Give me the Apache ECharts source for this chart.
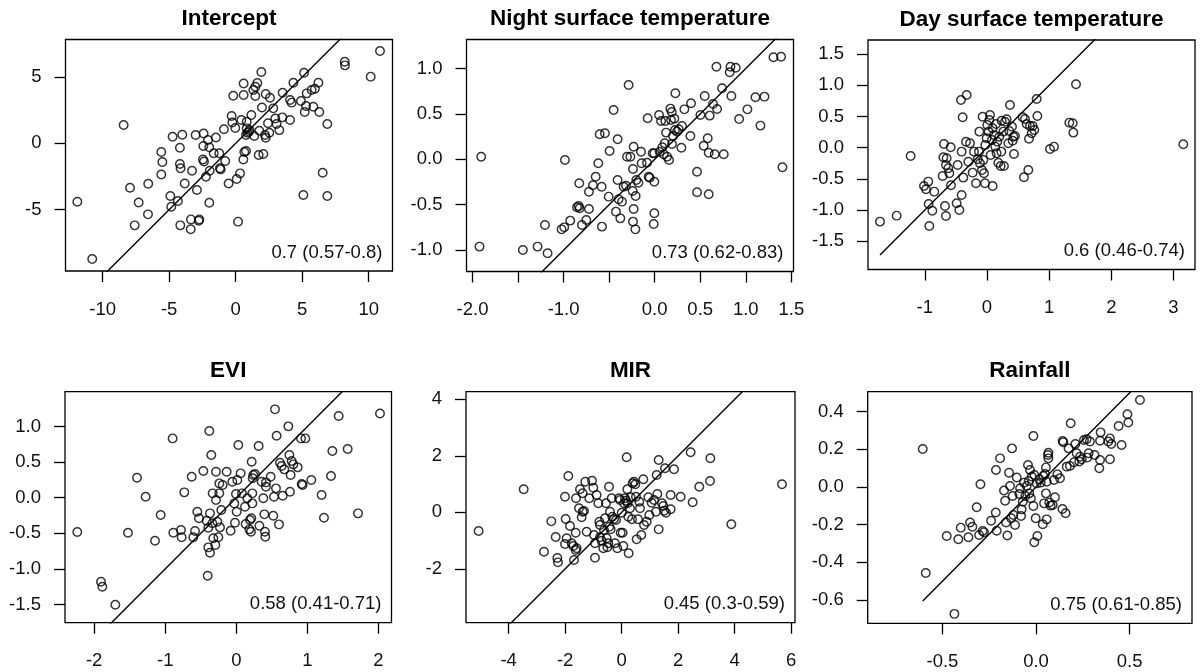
<!DOCTYPE html>
<html>
<head>
<meta charset="utf-8">
<script src="https://cdn.jsdelivr.net/npm/echarts@6/dist/echarts.min.js"></script>
<style>
html,body{margin:0;padding:0;background:#fff;}
#chart{width:1201px;height:672px;}
</style>
</head>
<body>
<div id="chart"></div>
<script>
// ---------- data ----------
const titles = ['Intercept', 'Night surface temperature', 'Day surface temperature', 'EVI', 'MIR', 'Rainfall'];
const corrLabels = ['0.7 (0.57-0.8)', '0.73 (0.62-0.83)', '0.6 (0.46-0.74)', '0.58 (0.41-0.71)', '0.45 (0.3-0.59)', '0.75 (0.61-0.85)'];

const xTicks = [[-10, -5, 0, 5, 10], [-2, -1.5, -1, -0.5, 0, 0.5, 1, 1.5], [-1, 0, 1, 2, 3], [-2, -1, 0, 1, 2], [-4, -2, 0, 2, 4, 6], [-0.5, 0, 0.5]];
const xTickLabels = [[-10, -5, 0, 5, 10], [-2, -1, 0, 0.5, 1, 1.5], [-1, 0, 1, 2, 3], [-2, -1, 0, 1, 2], [-4, -2, 0, 2, 4, 6], [-0.5, 0, 0.5]];
const yTicks = [[-5, 0, 5], [-1, -0.5, 0, 0.5, 1], [-1.5, -1, -0.5, 0, 0.5, 1, 1.5], [-1.5, -1, -0.5, 0, 0.5, 1], [-2, 0, 2, 4], [-0.6, -0.4, -0.2, 0, 0.2, 0.4]];
const xDecimals = [0, 1, 0, 0, 0, 1];
const yDecimals = [0, 1, 1, 1, 0, 1];

const xMin = [-12.79, -2.066, -1.914, -2.41, -5.51, -0.899];
const xMax = [11.79, 1.524, 3.346, 2.183, 6.136, 0.833];
const yMin = [-9.62, -1.235, -1.955, -1.756, -3.906, -0.724];
const yMax = [7.83, 1.319, 1.727, 1.489, 4.27, 0.506];

const intercept = [[-11.9,-4.4],[-10.78,-8.72],[-8.42,1.38],[-7.94,-3.34],[-7.59,-6.18],[-7.29,-4.45],[-6.59,-5.35],[-6.57,-3.04],[-5.59,-0.65],[-5.51,-1.41],[-5.59,-2.34],[-4.91,-3.97],[-4.84,-4.77],[-4.74,0.5],[-4.34,-4.35],[-4.16,-6.18],[-4.19,-1.56],[-4.14,-1.88],[-4.19,-0.33],[-4.01,0.65],[-3.83,-3.02],[-3.36,-5.73],[-3.38,-6.48],[-3.28,-2.06],[-3.01,0.63],[-2.91,-3.52],[-2.78,-5.83],[-2.73,-5.73],[-2.41,0.75],[-2.43,-0.2],[-2.46,-1.21],[-2.38,-1.36],[-2.23,-2.51],[-1.98,-4.47],[-2.08,0.25],[-1.98,-0.3],[-1.95,-2.06],[-1.65,-0.75],[-1.48,0.45],[-1.23,-0.75],[-1.18,-1.88],[-1.13,-1.96],[-0.78,-1.33],[-0.53,-3.02],[-0.88,1.06],[-0.18,3.59],[-0.3,2.06],[-0.25,1.58],[-0.03,1.16],[0.08,-2.69],[0.33,-2.26],[0.18,-5.9],[0.43,1.76],[0.6,4.52],[0.6,3.64],[0.58,-1.21],[0.65,-0.65],[0.78,-0.58],[0.83,1.63],[0.83,1.13],[0.78,0.63],[0.88,0.8],[1.0,0.88],[1.05,1.0],[1.18,2.14],[1.4,0.55],[1.33,4.02],[1.48,4.27],[1.63,4.55],[1.48,3.57],[1.73,-0.88],[1.93,5.38],[1.98,2.71],[1.78,0.95],[2.08,-0.8],[2.21,0.63],[2.26,0.43],[2.26,3.72],[2.43,1.51],[2.58,3.44],[2.53,0.8],[2.83,2.64],[2.98,1.88],[3.08,1.46],[3.28,1.0],[3.53,3.82],[3.51,1.96],[4.09,1.76],[4.09,3.27],[4.21,3.07],[4.34,4.57],[4.91,3.19],[5.14,5.33],[5.19,2.36],[5.29,2.81],[5.09,-3.89],[5.34,3.77],[5.71,4.02],[5.96,4.12],[6.22,4.57],[5.84,2.76],[6.29,2.36],[6.54,-2.21],[6.89,-3.97],[6.89,1.46],[8.2,6.16],[8.22,5.88],[10.15,5.03],[10.85,6.96]];

const nightTemp = [[-1.923,-0.961],[-1.905,0.029],[-1.447,-0.998],[-1.286,-0.961],[-1.176,-1.035],[-1.205,-0.723],[-1.022,-0.771],[-0.993,-0.749],[-0.927,-0.675],[-0.985,-0.007],[-0.828,-0.264],[-0.853,-0.528],[-0.835,-0.514],[-0.824,-0.539],[-0.799,-0.723],[-0.751,-0.668],[-0.722,-0.547],[-0.722,-0.356],[-0.678,-0.286],[-0.648,-0.191],[-0.619,-0.044],[-0.604,0.275],[-0.546,0.286],[-0.582,-0.301],[-0.579,-0.741],[-0.505,-0.411],[-0.495,0.092],[-0.451,0.543],[-0.407,0.22],[-0.425,-0.576],[-0.407,-0.228],[-0.396,-0.44],[-0.377,-0.65],[-0.359,-0.466],[-0.341,-0.301],[-0.315,-0.29],[-0.286,0.818],[-0.304,0.029],[-0.267,0.029],[-0.242,-0.349],[-0.231,0.139],[-0.238,-0.106],[-0.231,-0.547],[-0.238,-0.686],[-0.212,-0.771],[-0.209,-0.404],[-0.201,-0.228],[-0.179,-0.257],[-0.15,0.084],[-0.143,-0.044],[-0.084,-0.037],[-0.077,0.451],[-0.066,-0.191],[-0.055,-0.202],[-0.022,0.066],[-0.004,0.066],[-0.004,-0.246],[-0.004,-0.594],[-0.011,-0.712],[0.048,0.488],[0.055,0.084],[0.07,0.422],[0.084,0.132],[0.099,0.055],[0.117,0.422],[0.11,0.176],[0.136,0.029],[0.125,0.294],[0.158,-0.007],[0.172,0.558],[0.187,0.521],[0.179,0.433],[0.19,0.169],[0.201,0.257],[0.216,0.448],[0.227,0.727],[0.223,0.323],[0.245,0.305],[0.264,0.33],[0.3,0.367],[0.293,0.128],[0.326,0.55],[0.392,0.257],[0.399,0.617],[0.465,-0.136],[0.465,-0.363],[0.502,0.488],[0.538,0.15],[0.549,0.697],[0.582,0.231],[0.593,-0.385],[0.593,0.073],[0.604,0.481],[0.641,0.609],[0.659,0.055],[0.685,0.554],[0.678,1.02],[0.74,0.782],[0.758,0.055],[0.824,0.958],[0.832,1.02],[0.89,1.009],[0.842,0.697],[0.927,0.444],[1.018,0.55],[1.106,0.683],[1.205,0.69],[1.161,0.371],[1.304,1.123],[1.388,1.13],[1.403,-0.088]];

const dayTemp = [[-1.721,-1.187],[-1.453,-1.091],[-1.228,-0.134],[-1.013,-0.615],[-0.981,-0.668],[-0.944,-0.545],[-0.938,-0.904],[-0.928,-1.257],[-0.879,-1.011],[-0.847,-0.706],[-0.713,-0.455],[-0.692,0.059],[-0.702,-0.155],[-0.66,-0.278],[-0.649,-0.171],[-0.676,-0.936],[-0.66,-1.096],[-0.622,-0.332],[-0.606,-0.412],[-0.584,0.005],[-0.579,-0.604],[-0.472,-0.278],[-0.488,-0.893],[-0.445,-1.0],[-0.408,-0.759],[-0.418,0.765],[-0.391,0.487],[-0.408,-0.064],[-0.381,-0.481],[-0.327,0.845],[-0.338,0.096],[-0.3,-0.225],[-0.273,0.07],[-0.231,-0.401],[-0.209,-0.064],[-0.177,-0.572],[-0.15,-0.187],[-0.129,-0.064],[-0.123,0.257],[-0.113,-0.251],[-0.08,-0.358],[-0.07,0.497],[-0.059,-0.198],[-0.048,-0.412],[-0.032,-0.572],[-0.027,0.043],[-0.005,0.15],[0.005,0.364],[0.027,0.257],[0.048,0.524],[0.038,0.444],[0.059,-0.118],[0.08,0.123],[0.091,-0.615],[0.091,0.31],[0.113,0.203],[0.134,0.016],[0.145,0.38],[0.155,-0.091],[0.166,0.096],[0.182,-0.241],[0.198,0.176],[0.22,-0.294],[0.236,0.433],[0.231,-0.064],[0.263,0.257],[0.273,-0.294],[0.29,0.417],[0.316,0.455],[0.343,0.07],[0.359,0.267],[0.37,0.684],[0.402,0.337],[0.424,0.176],[0.413,0.112],[0.434,-0.102],[0.45,0.187],[0.574,0.487],[0.595,-0.476],[0.611,0.46],[0.638,0.38],[0.665,-0.358],[0.676,0.144],[0.692,0.348],[0.718,0.23],[0.735,0.348],[0.761,0.283],[0.799,0.781],[0.81,0.508],[1.013,-0.021],[1.078,0.016],[1.324,0.401],[1.378,0.39],[1.389,0.241],[1.432,1.016],[3.158,0.053]];

const evi = [[-2.237,-0.482],[-1.904,-1.18],[-1.885,-1.25],[-1.702,-1.503],[-1.524,-0.492],[-1.397,0.281],[-1.276,0.014],[-1.144,-0.604],[-1.064,-0.243],[-0.896,0.833],[-0.886,-0.492],[-0.778,-0.454],[-0.769,-0.557],[-0.732,0.075],[-0.628,0.295],[-0.605,-0.557],[-0.581,-0.468],[-0.549,-0.197],[-0.525,-0.29],[-0.464,0.375],[-0.417,-0.323],[-0.38,0.936],[-0.394,-0.421],[-0.37,-0.22],[-0.394,-0.698],[-0.37,-0.772],[-0.352,0.599],[-0.403,-1.096],[-0.333,0.061],[-0.338,-0.36],[-0.324,-0.571],[-0.286,0.365],[-0.286,-0.033],[-0.295,-0.665],[-0.267,-0.337],[-0.253,-0.557],[-0.239,0.061],[-0.23,-0.417],[-0.239,0.201],[-0.211,-0.173],[-0.192,0.178],[-0.136,0.365],[-0.08,-0.463],[-0.056,0.225],[-0.028,-0.08],[-0.019,-0.351],[-0.005,0.051],[0.005,-0.197],[0.014,0.248],[0.028,0.74],[0.061,0.342],[0.08,0.061],[0.122,-0.126],[0.131,-0.37],[0.155,-0.009],[0.183,-0.445],[0.192,-0.314],[0.206,-0.478],[0.211,-0.29],[0.216,0.506],[0.225,-0.08],[0.225,0.061],[0.23,0.272],[0.239,0.318],[0.263,0.332],[0.314,0.726],[0.324,-0.393],[0.356,0.225],[0.38,-0.009],[0.394,-0.234],[0.403,-0.478],[0.408,-0.548],[0.417,0.154],[0.417,0.215],[0.483,0.295],[0.52,-0.253],[0.53,0.014],[0.544,1.241],[0.558,0.131],[0.567,0.871],[0.6,-0.375],[0.614,0.492],[0.638,0.445],[0.652,0.028],[0.675,0.398],[0.732,1.002],[0.746,0.599],[0.755,0.084],[0.764,0.318],[0.778,0.515],[0.802,0.468],[0.863,0.426],[0.91,0.833],[0.919,0.192],[0.971,0.833],[0.933,0.178],[1.055,0.248],[1.2,0.037],[1.233,-0.281],[1.332,0.304],[1.351,0.655],[1.44,1.147],[1.566,0.684],[1.712,-0.22],[2.021,1.184]];

const mir = [[-5.062,-0.661],[-3.469,0.814],[-2.749,-1.392],[-2.49,-0.319],[-2.336,-0.873],[-2.277,-1.617],[-2.254,-1.77],[-2.006,0.555],[-1.982,-0.236],[-1.888,1.286],[-1.947,-0.92],[-2.006,-1.121],[-1.829,-0.484],[-1.77,-1.097],[-1.711,-1.192],[-1.628,-1.333],[-1.687,-1.687],[-1.617,0.496],[-1.628,-0.72],[-1.593,-1.274],[-1.51,0.142],[-1.475,0.814],[-1.416,-0.177],[-1.381,0.024],[-1.381,0.673],[-1.333,0.047],[-1.286,1.086],[-1.239,-0.684],[-1.145,0.496],[-1.05,1.121],[-1.003,0.873],[-0.979,-0.802],[-0.944,-1.605],[-0.944,-1.097],[-0.885,0.614],[-0.826,0.319],[-0.791,-0.33],[-0.767,-0.448],[-0.767,-0.885],[-0.708,-1.003],[-0.649,-1.274],[-0.625,-0.625],[-0.59,-0.212],[-0.555,0.319],[-0.531,-0.92],[-0.507,-1.239],[-0.472,-1.097],[-0.448,0.909],[-0.437,-0.507],[-0.413,0.024],[-0.389,-0.602],[-0.354,0.496],[-0.33,-0.153],[-0.271,-0.236],[-0.236,-1.097],[-0.201,-0.271],[-0.153,-1.274],[-0.094,0.496],[-0.059,0.437],[-0.035,-0.72],[0.0,-0.012],[0.035,-0.72],[0.059,-1.192],[0.083,0.319],[0.118,0.496],[0.153,0.413],[0.177,1.947],[0.201,0.814],[0.212,0.319],[0.236,-0.153],[0.248,-1.451],[0.295,0.142],[0.319,0.531],[0.366,-0.248],[0.389,1.027],[0.437,1.086],[0.484,0.991],[0.507,0.555],[0.531,-0.956],[0.578,-0.248],[0.625,0.378],[0.649,0.142],[0.696,-0.802],[0.767,1.168],[0.791,-0.448],[0.885,-0.33],[0.944,0.531],[0.979,-0.094],[1.062,0.342],[1.145,0.437],[1.215,0.024],[1.239,1.322],[1.263,0.649],[1.31,-0.602],[1.31,1.852],[1.428,0.319],[1.475,0.224],[1.534,1.558],[1.51,0.059],[1.569,-0.012],[1.735,0.106],[1.735,0.614],[1.853,1.522],[2.088,0.555],[2.442,2.124],[2.513,0.354],[2.749,0.909],[3.139,1.912],[3.127,1.109],[3.882,-0.425],[5.676,0.991]];

const rainfall = [[-0.605,0.202],[-0.589,-0.457],[-0.477,-0.26],[-0.436,-0.674],[-0.415,-0.278],[-0.402,-0.216],[-0.361,-0.267],[-0.352,-0.189],[-0.34,-0.211],[-0.317,-0.108],[-0.304,-0.255],[-0.297,0.014],[-0.285,-0.234],[-0.278,-0.241],[-0.24,-0.179],[-0.215,-0.136],[-0.21,-0.232],[-0.214,0.09],[-0.192,0.152],[-0.171,-0.019],[-0.165,-0.073],[-0.16,-0.189],[-0.153,-0.258],[-0.144,0.076],[-0.139,0.005],[-0.133,-0.166],[-0.128,0.205],[-0.125,-0.048],[-0.121,-0.149],[-0.112,-0.202],[-0.103,0.05],[-0.089,-0.037],[-0.085,-0.007],[-0.08,-0.154],[-0.077,-0.119],[-0.071,-0.078],[-0.064,0.023],[-0.057,-0.048],[-0.05,0.005],[-0.043,0.117],[-0.039,0.032],[-0.036,-0.034],[-0.032,0.09],[-0.028,-0.06],[-0.023,0.055],[-0.014,0.271],[-0.014,-0.101],[-0.009,0.064],[-0.009,-0.294],[-0.002,-0.166],[0.004,0.019],[0.007,-0.26],[0.018,0.041],[0.025,0.023],[0.036,-0.198],[0.039,0.058],[0.043,-0.087],[0.048,0.069],[0.053,-0.034],[0.057,-0.172],[0.057,0.028],[0.053,0.104],[0.064,0.17],[0.066,0.182],[0.066,0.152],[0.071,-0.083],[0.078,-0.099],[0.089,-0.096],[0.096,0.037],[0.101,-0.055],[0.114,0.067],[0.128,0.046],[0.141,-0.117],[0.158,-0.14],[0.142,0.244],[0.146,0.237],[0.164,0.108],[0.174,0.205],[0.181,0.112],[0.185,0.338],[0.203,0.131],[0.21,0.228],[0.217,0.179],[0.231,0.135],[0.235,0.161],[0.244,0.147],[0.256,0.25],[0.27,0.253],[0.274,0.156],[0.281,0.179],[0.288,0.241],[0.313,0.17],[0.338,0.099],[0.342,0.143],[0.345,0.29],[0.342,0.246],[0.386,0.241],[0.395,0.258],[0.402,0.228],[0.395,0.147],[0.441,0.324],[0.457,0.223],[0.488,0.386],[0.493,0.342],[0.555,0.462]];

const panelData = [intercept, nightTemp, dayTemp, evi, mir, rainfall];

// ---------- layout ----------
const boxes = [
  {l: 65.5, r: 392.5, t: 39.5, b: 271},
  {l: 466.5, r: 793.5, t: 39.5, b: 271.5},
  {l: 868, r: 1195, t: 40, b: 269.5},
  {l: 65, r: 391.5, t: 391.7, b: 622.7},
  {l: 466, r: 795, t: 391.7, b: 622.7},
  {l: 867.7, r: 1192, t: 391.7, b: 623.3}
];

const FONT = 'Liberation Sans, Arial, Helvetica, sans-serif';
const TXT = '#111';

const grid = [], xAxis = [], yAxis = [], series = [], graphic = [];
for (let i = 0; i < 6; i++) {
  const bx = boxes[i];
  grid.push({
    left: bx.l, top: bx.t, width: bx.r - bx.l, height: bx.b - bx.t,
    containLabel: false, outerBoundsMode: 'none',
    show: true, borderColor: '#000', borderWidth: 1.3, backgroundColor: 'transparent'
  });
  const xd = xDecimals[i], yd = yDecimals[i];
  xAxis.push({
    type: 'value', gridIndex: i, min: xMin[i], max: xMax[i], position: 'bottom',
    axisLine: {show: false, onZero: false},
    splitLine: {show: false},
    axisTick: {show: true, inside: false, length: 11, customValues: xTicks[i], lineStyle: {color: '#000', width: 1.3}},
    axisLabel: {show: true, customValues: xTickLabels[i], margin: 29, fontSize: 18.5, fontFamily: FONT, color: TXT,
      hideOverlap: false, formatter: v => Number(v).toFixed(xd)}
  });
  yAxis.push({
    type: 'value', gridIndex: i, min: yMin[i], max: yMax[i], position: 'left',
    axisLine: {show: false, onZero: false},
    splitLine: {show: false},
    axisTick: {show: true, inside: false, length: 11, customValues: yTicks[i], lineStyle: {color: '#000', width: 1.3}},
    axisLabel: {show: true, customValues: yTicks[i], margin: 24, fontSize: 18.5, fontFamily: FONT, color: TXT,
      hideOverlap: false, formatter: v => Number(v).toFixed(yd)}
  });
  const d = panelData[i];
  const xs = d.map(p => p[0]);
  const lo = Math.min(...xs), hi = Math.max(...xs);
  series.push({
    type: 'line', xAxisIndex: i, yAxisIndex: i, data: [[lo, lo], [hi, hi]],
    symbol: 'none', clip: true, silent: true,
    lineStyle: {color: '#000', width: 1.4}, z: 3
  });
  series.push({
    type: 'scatter', xAxisIndex: i, yAxisIndex: i, data: d,
    symbol: 'circle', symbolSize: 8.5, silent: true,
    itemStyle: {color: 'rgba(0,0,0,0)', borderColor: '#000', borderWidth: 1.45}, z: 4
  });
  graphic.push({
    type: 'text', x: (bx.l + bx.r) / 2, y: bx.t - 20.5,
    style: {text: titles[i], fontSize: 22.5, fontWeight: 'bold', fontFamily: FONT, fill: '#000',
      align: 'center', verticalAlign: 'middle'}
  });
  graphic.push({
    type: 'text', x: bx.r - 10, y: bx.b - 18.5,
    style: {text: corrLabels[i], fontSize: 18.5, fontFamily: FONT, fill: TXT,
      align: 'right', verticalAlign: 'middle'}
  });
}

const chart = echarts.init(document.getElementById('chart'), null, {renderer: 'canvas'});
chart.setOption({
  backgroundColor: '#fff',
  animation: false,
  grid, xAxis, yAxis, series, graphic
});
</script>
</body>
</html>
